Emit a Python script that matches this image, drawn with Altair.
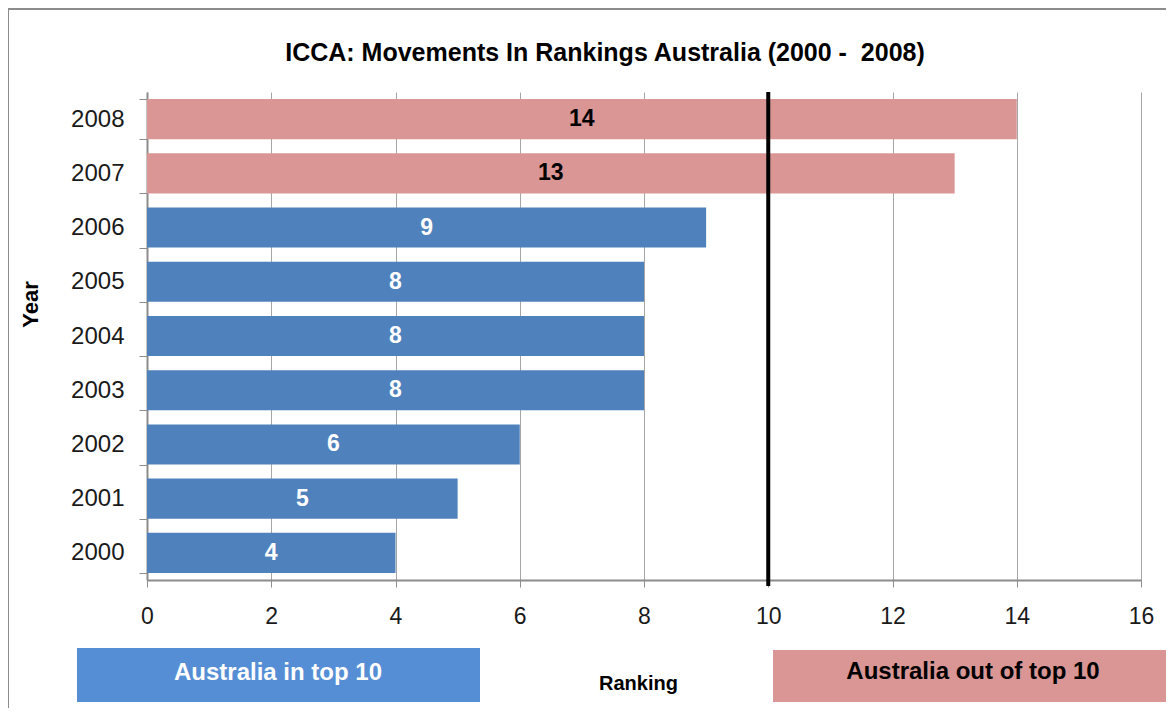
import altair as alt
import pandas as pd

# ---- data ----
years = ["2000", "2001", "2002", "2003", "2004", "2005", "2006", "2007", "2008"]
rankings = [4, 5, 6, 8, 8, 8, 9, 13, 14]
status = ["in", "in", "in", "in", "in", "in", "in", "out", "out"]
threshold = [10]
x_ticks = [0, 2, 4, 6, 8, 10, 12, 14, 16]
legend_in = ["Australia in top 10"]
legend_out = ["Australia out of top 10"]
title_text = ["ICCA: Movements In Rankings Australia (2000 -\u00a0 2008)"]

df = pd.DataFrame({"Year": years, "Ranking": rankings, "Status": status})

FONT = "Liberation Sans"
W, H = 994, 488
year_order = years[::-1]

x_axis = alt.Axis(
    values=x_ticks, title="Ranking", grid=True, gridColor="#A6A6A6", gridWidth=1,
    domainColor="#8C8C8C", domainWidth=2, tickColor="#8C8C8C", tickSize=7, tickWidth=1,
    labelFont=FONT, labelFontSize=23, labelColor="#1a1a1a", labelPadding=18, labelFlush=False,
    titleFont=FONT, titleFontSize=20, titleFontWeight="bold", titleColor="black",
    titleX=491, titleY=103, titleBaseline="middle", titleAlign="center",
)
x_scale = alt.Scale(domain=[0, 16], nice=False, zero=True)

y_axis = alt.Axis(
    title="Year", tickBand="extent", ticks=True, tickSize=8, tickColor="#8C8C8C", tickWidth=1,
    domainColor="#8C8C8C", domainWidth=2, grid=False,
    labelFont=FONT, labelFontSize=24, labelColor="#1a1a1a", labelPadding=15,
    titleFont=FONT, titleFontSize=22, titleFontWeight="bold", titleColor="black",
    titleX=-117, titleY=212, titleAngle=270, titleBaseline="middle", titleAlign="center",
)
y_enc = alt.Y("Year:O", sort=year_order,
              scale=alt.Scale(paddingInner=0.26, paddingOuter=0.13), axis=y_axis)

border = alt.Chart(pd.DataFrame({"b": [0]})).mark_rect(
    fill="white", fillOpacity=0, stroke="#8C8C8C", strokeWidth=2
).encode(x=alt.value(-139), x2=alt.value(W + 60), y=alt.value(-83), y2=alt.value(H + 220))

title = alt.Chart(pd.DataFrame({"t": title_text})).mark_text(
    font=FONT, fontSize=25, fontWeight="bold", color="black", align="center", baseline="middle"
).encode(text="t:N", x=alt.value(458), y=alt.value(-39))

bars = alt.Chart(df).mark_bar().encode(
    x=alt.X("Ranking:Q", scale=x_scale, axis=x_axis),
    y=y_enc,
    color=alt.Color("Status:N", scale=alt.Scale(domain=["in", "out"], range=["#4F81BD", "#D99694"]),
                    legend=None),
)

labels = alt.Chart(df).transform_calculate(mid="datum.Ranking / 2").mark_text(
    font=FONT, fontSize=23, fontWeight="bold", align="center", baseline="middle"
).encode(
    x=alt.X("mid:Q", scale=x_scale, axis=x_axis),
    y=y_enc,
    text=alt.Text("Ranking:Q"),
    color=alt.condition(alt.datum.Status == "in", alt.value("white"), alt.value("black")),
)

rule = alt.Chart(pd.DataFrame({"t": threshold})).mark_rule(color="black", strokeWidth=4).encode(
    x=alt.X("t:Q", scale=x_scale, axis=x_axis),
    y=alt.value(0), y2=alt.value(H + 6),
)

box_in = alt.Chart(pd.DataFrame({"label": legend_in})).mark_rect(color="#558ED5").encode(
    x=alt.value(-70), x2=alt.value(333), y=alt.value(556), y2=alt.value(610)
)
box_out = alt.Chart(pd.DataFrame({"label": legend_out})).mark_rect(color="#D99694").encode(
    x=alt.value(626), x2=alt.value(1060), y=alt.value(558), y2=alt.value(610)
)
text_in = alt.Chart(pd.DataFrame({"label": legend_in})).mark_text(
    font=FONT, fontSize=24, fontWeight="bold", color="white", align="center", baseline="middle"
).encode(text="label:N", x=alt.value(131), y=alt.value(581))
text_out = alt.Chart(pd.DataFrame({"label": legend_out})).mark_text(
    font=FONT, fontSize=24, fontWeight="bold", color="black", align="center", baseline="middle"
).encode(text="label:N", x=alt.value(826), y=alt.value(580))

chart = alt.layer(border, title, bars, labels, rule, box_in, box_out, text_in, text_out).properties(
    width=W, height=H,
    padding={"left": 139, "top": 84, "right": 25, "bottom": 128},
    autosize=alt.AutoSizeParams(type="none"),
    background="white",
).configure_view(strokeWidth=0)

chart.save("out.html", embed_options={"renderer": "svg", "actions": False})
